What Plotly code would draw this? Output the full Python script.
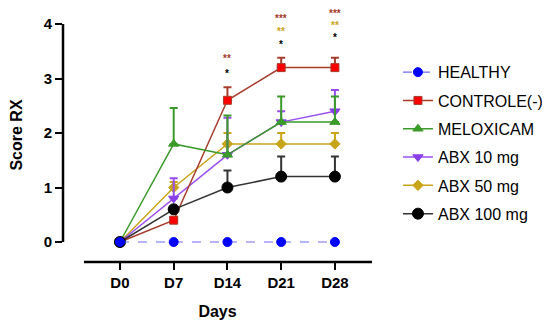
import plotly.graph_objects as go

days = ["D0", "D7", "D14", "D21", "D28"]
xpos = [0, 1, 2, 3, 4]

healthy = [0, 0, 0, 0, 0]
controle = [0, 0.4, 2.6, 3.2, 3.2]
controle_err = [0, 0.05, 0.24, 0.18, 0.18]
meloxicam = [0, 1.8, 1.6, 2.2, 2.2]
meloxicam_err = [0, 0.66, 0.72, 0.47, 0.47]
abx10 = [0, 0.8, 1.6, 2.2, 2.4]
abx10_err = [0, 0.37, 0.68, 0.2, 0.39]
abx50 = [0, 1.0, 1.8, 1.8, 1.8]
abx50_err = [0, 0.1, 0.2, 0.2, 0.2]
abx100 = [0, 0.6, 1.0, 1.2, 1.2]
abx100_err = [0, 0.05, 0.31, 0.37, 0.37]

# significance marks: (x index, y level, text, colour key)
sig_x = [2, 2, 3, 3, 3, 4, 4, 4]
sig_y = [3.36, 3.09, 4.11, 3.86, 3.62, 4.2, 3.98, 3.76]
sig_text = ["**", "*", "***", "**", "*", "***", "**", "*"]
sig_group = ["c", "k", "c", "g", "k", "c", "g", "k"]

FONT = "Arial, Liberation Sans, Helvetica, sans-serif"

fig = go.Figure()

def add(name, y, err, line_color, marker_color, symbol, size, z, dash="solid", mline=None, lw=1.5):
    kw = {}
    if err is not None:
        kw["error_y"] = dict(type="data", symmetric=False, array=err,
                             arrayminus=[0] * len(err), color=line_color,
                             thickness=2, width=4)
    fig.add_trace(go.Scatter(
        x=xpos, y=y, name=name, mode="lines+markers",
        line=dict(color=line_color, width=lw, dash=dash),
        marker=dict(color=marker_color, symbol=symbol, size=size,
                    line=dict(color=mline or marker_color, width=1)),
        legendgroup=name, zorder=z, cliponaxis=False, **kw))

add("HEALTHY", healthy, None, "#6a6af0", "#0000ff", "circle", 9, 10, dash="dash", lw=1.2)
add("CONTROLE(-)", controle, controle_err, "#a63c2c", "#ff0000", "square", 8, 3, mline="#a63c2c")
add("MELOXICAM", meloxicam, meloxicam_err, "#3a9a2a", "#3a9a2a", "triangle-up", 9, 4)
add("ABX 10 mg", abx10, abx10_err, "#9a4ef0", "#8a3ee8", "triangle-down", 9, 2)
add("ABX 50 mg", abx50, abx50_err, "#c8a418", "#c8a418", "diamond", 8, 1)
add("ABX 100 mg", abx100, abx100_err, "#333333", "#000000", "circle", 11, 5)

sig_colors = {"c": "#a63c2c", "g": "#c8a418", "k": "#000000"}
for xi, yi, t, g in zip(sig_x, sig_y, sig_text, sig_group):
    fig.add_annotation(x=xi, y=yi, text=t, showarrow=False, xref="x", yref="y",
                       font=dict(family=FONT, size=10, color=sig_colors[g], weight="bold"),
                       yanchor="middle")

# axis lines (offset style)
fig.add_shape(type="line", xref="paper", yref="y", x0=0, x1=0, y0=0, y1=4,
              line=dict(color="black", width=2.5))
fig.add_shape(type="line", xref="x", yref="paper", x0=-0.67, x1=4.69, y0=0, y1=0,
              line=dict(color="black", width=2.5))

fig.update_layout(
    width=550, height=324,
    margin=dict(l=55, r=186, t=0, b=70, autoexpand=False),
    paper_bgcolor="white", plot_bgcolor="white",
    font=dict(family=FONT, color="black"),
    showlegend=True,
    legend=dict(x=1.084, y=0.814, xanchor="left", yanchor="top",
                traceorder="grouped", tracegroupgap=4.5,
                font=dict(family=FONT, size=16, color="black"),
                itemwidth=30, bgcolor="rgba(0,0,0,0)"),
    xaxis=dict(range=[-1.06, 4.69], tickvals=xpos, ticktext=days,
               showgrid=False, zeroline=False, showline=False, automargin=False,
               ticks="outside", ticklen=7, tickwidth=2, tickcolor="black",
               tickfont=dict(family=FONT, size=15, color="black", weight="bold"),
               title=dict(text="<b>Days</b>", font=dict(family=FONT, size=16), standoff=15)),
    yaxis=dict(range=[-0.367, 4.294], tickvals=[0, 1, 2, 3, 4], automargin=False,
               showgrid=False, zeroline=False, showline=False,
               ticks="outside", ticklen=7, tickwidth=2, tickcolor="black",
               tickfont=dict(family=FONT, size=15, color="black", weight="bold"),
               title=dict(text="<b>Score RX</b>", font=dict(family=FONT, size=16), standoff=21)),
)

fig.write_html("out.html")
